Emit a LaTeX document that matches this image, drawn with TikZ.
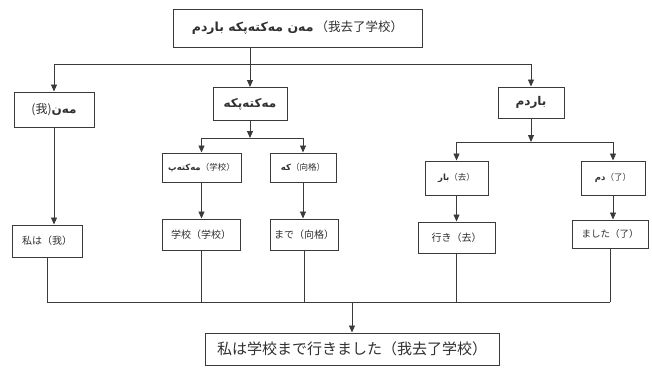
\documentclass[tikz,border=0pt]{standalone}
\usepackage{fontspec}
\usetikzlibrary{arrows.meta}
\TeXXeTstate=1
\newfontfamily\ar[Script=Arabic]{DejaVu Sans}
\newfontfamily\cjk{Noto Sans CJK SC}
\newfontfamily\jp{Noto Sans CJK JP}
\definecolor{ln}{HTML}{3A3A3A}
\definecolor{tx}{HTML}{303030}
\tikzset{
  box/.style={draw=ln, line width=1pt, inner sep=0pt, align=center, text=tx},
  conn/.style={draw=ln, line width=0.9pt},
  arr/.style={conn, -{Triangle[length=7pt,width=6pt]}},
}
\newcommand{\AR}[1]{{\ar\bfseries\beginR #1\endR}}
\begin{document}
\begin{tikzpicture}[x=1pt,y=-1pt]
\useasboundingbox[fill=white] (0,0) rectangle (652,367);
% level 1
\node[box, minimum width=249pt, minimum height=38pt, font=\fontsize{12.5}{14}\selectfont] (T) at (297.5,28)
  {\AR{مەن مەكتەپكە باردم}\,{\cjk （我去了学校）}};
% level 2
\node[box, minimum width=80pt, minimum height=35pt, font=\fontsize{12}{14}\selectfont] (A) at (54,109.5)
  {{\cjk (我)}\AR{مەن}};
\node[box, minimum width=74pt, minimum height=33pt, font=\fontsize{12}{14}\selectfont] (B) at (250,104)
  {\AR{مەكتەپكە}};
\node[box, minimum width=66pt, minimum height=31pt, font=\fontsize{12}{14}\selectfont] (C) at (531,102.5)
  {\AR{باردم}};
% level 3
\node[box, minimum width=79pt, minimum height=29pt, font=\fontsize{8.5}{10}\selectfont] (D) at (201.5,167.5)
  {\AR{مەكتەپ}{\cjk （学校）}};
\node[box, minimum width=66pt, minimum height=29pt, font=\fontsize{8.5}{10}\selectfont] (E) at (303,167.5)
  {\AR{كە}{\cjk （向格）}};
\node[box, minimum width=63pt, minimum height=34pt, font=\fontsize{8.5}{10}\selectfont] (F) at (456.5,178)
  {\AR{بار}{\cjk （去）}};
\node[box, minimum width=64pt, minimum height=34pt, font=\fontsize{8.5}{10}\selectfont] (G) at (613,178)
  {\AR{دم}{\cjk （了）}};
% level 4
\node[box, minimum width=70pt, minimum height=32pt, font=\jp\fontsize{10}{12}\selectfont] (H) at (47,241) {私は（我）};
\node[box, minimum width=78pt, minimum height=31pt, font=\jp\fontsize{10}{12}\selectfont] (I) at (201,234.5) {学校（学校）};
\node[box, minimum width=68pt, minimum height=31pt, font=\jp\fontsize{10}{12}\selectfont] (J) at (304,234.5) {まで（向格）};
\node[box, minimum width=77pt, minimum height=31pt, font=\jp\fontsize{10}{12}\selectfont] (K) at (456.5,237.5) {行き（去）};
\node[box, minimum width=76pt, minimum height=28pt, font=\jp\fontsize{9.5}{11}\selectfont] (L) at (610,234) {ました（了）};
% bottom
\node[box, minimum width=294pt, minimum height=32pt, font=\jp\fontsize{15}{17}\selectfont] (M) at (352,349)
  {私は学校まで行きました（我去了学校）};
% junction levels
\coordinate (j1) at (0,64);
\coordinate (j2) at (0,138);
\coordinate (j3) at (0,142);
\coordinate (j4) at (0,302);
% top fan-out
\draw[arr] (T.south -| B.north) -- (B.north);
\draw[conn] (j1 -| A.north) -- (j1 -| C.north);
\draw[arr] (j1 -| A.north) -- (A.north);
\draw[arr] (j1 -| C.north) -- (C.north);
% B branch
\draw[arr] (B.south) -- (j2 -| B.south);
\draw[conn] (j2 -| D.north) -- (j2 -| E.north);
\draw[arr] (j2 -| D.north) -- (D.north);
\draw[arr] (j2 -| E.north) -- (E.north);
% C branch
\draw[arr] (C.south) -- (j3 -| C.south);
\draw[conn] (j3 -| F.north) -- (j3 -| G.north);
\draw[arr] (j3 -| F.north) -- (F.north);
\draw[arr] (j3 -| G.north) -- (G.north);
% down to level 4
\draw[arr] (A.south) -- (A.south |- H.north);
\draw[arr] (D.south) -- (D.south |- I.north);
\draw[arr] (E.south) -- (E.south |- J.north);
\draw[arr] (F.south) -- (F.south |- K.north);
\draw[arr] (G.south) -- (G.south |- L.north);
% collect to bottom
\draw[conn] (H.south) -- (H.south |- j4);
\draw[conn] (I.south) -- (I.south |- j4);
\draw[conn] (J.south) -- (J.south |- j4);
\draw[conn] (K.south) -- (K.south |- j4);
\draw[conn] (L.south) -- (L.south |- j4);
\draw[conn] (H.south |- j4) -- (L.south |- j4);
\draw[arr] (j4 -| M.north) -- (M.north);
\end{tikzpicture}
\end{document}
